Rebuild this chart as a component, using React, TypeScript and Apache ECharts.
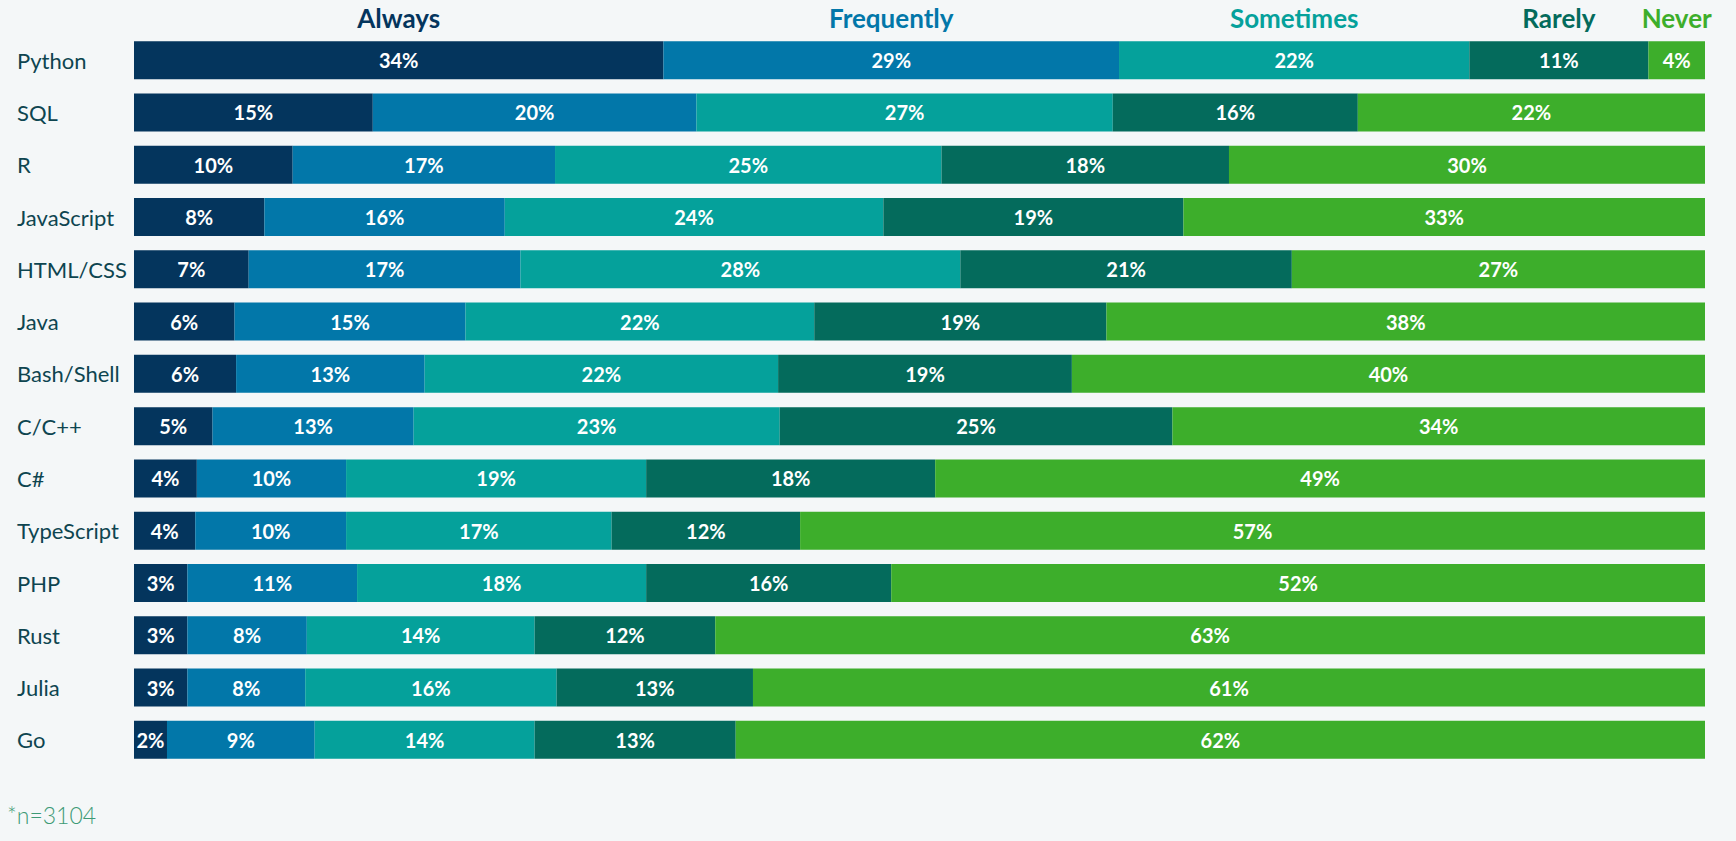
import React, { useEffect, useRef } from 'react';
import * as echarts from 'echarts';

const categories = ['Python', 'SQL', 'R', 'JavaScript', 'HTML/CSS', 'Java', 'Bash/Shell', 'C/C++', 'C#', 'TypeScript', 'PHP', 'Rust', 'Julia', 'Go'];

const seriesNames = ['Always', 'Frequently', 'Sometimes', 'Rarely', 'Never'];

// segment sizes (percent of the full bar)
const always = [33.7, 15.2, 10.1, 8.3, 7.3, 6.4, 6.5, 5.0, 4.0, 3.9, 3.4, 3.4, 3.4, 2.1];
const frequently = [29.0, 20.6, 16.7, 15.3, 17.3, 14.7, 12.0, 12.8, 9.5, 9.6, 10.8, 7.6, 7.5, 9.4];
const sometimes = [22.3, 26.5, 24.6, 24.1, 28.0, 22.2, 22.5, 23.3, 19.1, 16.9, 18.4, 14.5, 16.0, 14.0];
const rarely = [11.4, 15.6, 18.3, 19.1, 21.1, 18.6, 18.7, 25.0, 18.4, 12.0, 15.6, 11.5, 12.5, 12.8];
const never = [3.6, 22.1, 30.3, 33.2, 26.3, 38.1, 40.3, 33.9, 49.0, 57.6, 51.8, 63.0, 60.6, 61.7];

// printed percentage labels
const alwaysLabels = [34, 15, 10, 8, 7, 6, 6, 5, 4, 4, 3, 3, 3, 2];
const frequentlyLabels = [29, 20, 17, 16, 17, 15, 13, 13, 10, 10, 11, 8, 8, 9];
const sometimesLabels = [22, 27, 25, 24, 28, 22, 22, 23, 19, 17, 18, 14, 16, 14];
const rarelyLabels = [11, 16, 18, 19, 21, 19, 19, 25, 18, 12, 16, 12, 13, 13];
const neverLabels = [4, 22, 30, 33, 27, 38, 40, 34, 49, 57, 52, 63, 61, 62];

const footnote = '*n=3104';

const colors = ['#04355d', '#0277a9', '#05a19b', '#046b5c', '#3dae2b'];

export default function App() {
  const ref = useRef<HTMLDivElement>(null);

  useEffect(() => {
    const chart = echarts.init(ref.current as HTMLDivElement, null, { renderer: 'svg' });
    const valueSets = [always, frequently, sometimes, rarely, never];
    const labelSets = [alwaysLabels, frequentlyLabels, sometimesLabels, rarelyLabels, neverLabels];

    chart.setOption({
      animation: false,
      backgroundColor: '#f4f7f8',
      grid: { left: 134, right: 31, top: 34, bottom: 75, containLabel: false },
      xAxis: { type: 'value', min: 0, max: 100, show: false },
      yAxis: {
        type: 'category',
        data: categories,
        inverse: true,
        axisLine: { show: false },
        axisTick: { show: false },
        splitLine: { show: false },
        axisLabel: {
          align: 'left',
          margin: 117,
          color: '#0e4550',
          fontSize: 22,
          fontFamily: 'Lato',
        },
      },
      series: seriesNames.map((name, i) => ({
        name,
        type: 'bar',
        stack: 'total',
        barWidth: 38,
        itemStyle: { color: colors[i] },
        label: {
          show: true,
          position: 'inside',
          color: '#ffffff',
          fontWeight: 'bold',
          fontSize: 20,
          fontFamily: 'Lato',
          formatter: (p: any) => labelSets[i][p.dataIndex] + '%',
        },
        data: valueSets[i],
      })),
    });

    let cum = 0;
    const headers: any[] = seriesNames.map((name, i) => {
      const v = valueSets[i][0];
      const mid = cum + v / 2;
      cum += v;
      const x = chart.convertToPixel({ xAxisIndex: 0 } as any, mid) as number;
      return {
        type: 'text',
        x,
        y: 18,
        style: {
          text: name,
          fill: colors[i],
          font: 'bold 26px Lato',
          textAlign: 'center',
          textVerticalAlign: 'middle',
        },
      };
    });
    headers.push({
      type: 'text',
      x: 7,
      y: 815,
      style: {
        text: footnote,
        fill: '#3d9a76',
        font: '300 23px Lato',
        textVerticalAlign: 'middle',
      },
    });
    chart.setOption({ graphic: headers });

    return () => chart.dispose();
  }, []);

  return (
    <div
      ref={ref}
      style={{ position: 'fixed', left: 0, top: 0, width: 1736, height: 841 }}
    />
  );
}
